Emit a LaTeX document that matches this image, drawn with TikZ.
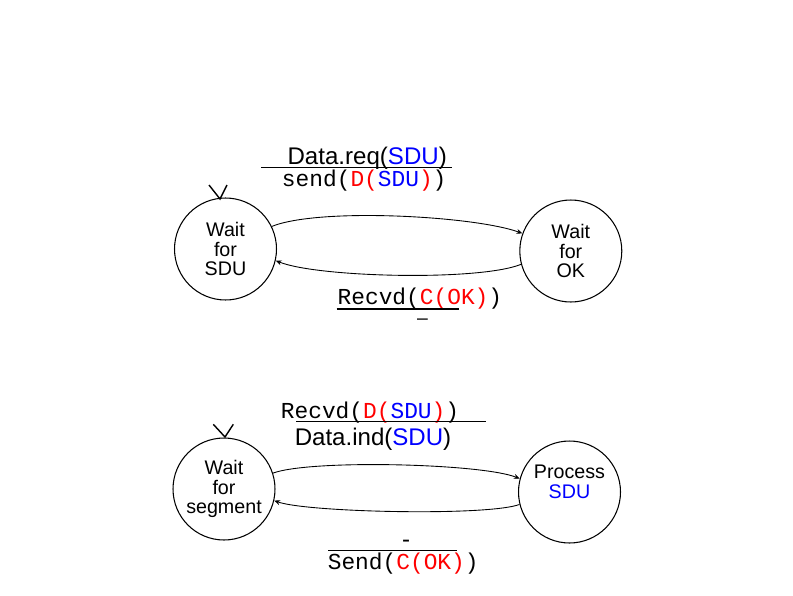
\documentclass[tikz,border=0pt]{standalone}
\usepackage{fontspec}
\setmainfont{Liberation Sans}
\setmonofont{Liberation Mono}
\usepackage{xcolor}
\usetikzlibrary{arrows.meta,positioning}

\tikzset{
  stnode/.style={draw, circle, line width=0.6pt, minimum size=2.04cm, inner sep=0pt,
    align=center, font=\fontsize{11.2}{11.3}\selectfont},
  trans/.style={line width=0.5pt, -{Stealth[length=3.4pt,width=2.8pt]}},
  sflbl/.style={inner sep=0pt, anchor=base, font=\fontsize{13.7}{15}\selectfont},
  ttlbl/.style={inner sep=0pt, anchor=base, font=\fontsize{13}{15}\ttfamily},
  fracbar/.style={line width=0.6pt},
  initmark/.style={line width=0.8pt}
}
\newcommand{\redtxt}[1]{\textcolor{red}{#1}}
\newcommand{\bluetxt}[1]{\textcolor{blue}{#1}}

\begin{document}
\begin{tikzpicture}[x=0.02cm, y=0.02cm]
\useasboundingbox (0,0) rectangle (793,-595);

\node[stnode] (WSDU) at (225.5,-249) {Wait\\for\\SDU};
\node[stnode] (WOK) at (570.8,-251) {Wait\\for\\OK};
\node[stnode] (WSEG) at (224,-489) {Wait\\for\\segment};
\node[stnode] (PSDU) at (569.5,-492) {Process\\\bluetxt{SDU}\\~};

\draw[initmark] (209,-185) -- (220,-199) -- (227,-185);
\draw[initmark] (213.3,-424.3) -- (225,-437) -- (233.3,-424.3);

\draw[trans] (WSDU.26) to[out=22, in=160, looseness=0.52] (WOK.160);
\draw[trans] (WOK.195) to[out=-158, in=-22, looseness=0.47] (WSDU.-13);
\draw[trans] (WSEG.18) to[out=20, in=158, looseness=0.42] (PSDU.165);
\draw[trans] (PSDU.194) to[out=-160, in=-20, looseness=0.36] (WSEG.-13);

\node[sflbl] (req) at (367.2,-164) {Data.req(\bluetxt{SDU})};
\draw[fracbar] (261,-167.7) -- (451.7,-167.7);
\node[ttlbl] (send) at (364.2,-186) {send(\redtxt{D(}\bluetxt{SDU}\redtxt{)})};

\node[ttlbl] (rcvC) at (419.9,-304) {Recvd(\redtxt{C(OK)})};
\draw[fracbar] (336.7,-309) -- (458.7,-309);
\node[inner sep=0pt, anchor=base, font=\fontsize{11}{12}\selectfont] (none1) at (422.5,-324) {\textendash};

\node[ttlbl] (rcvD) at (370,-418) {Recvd(\redtxt{D(}\bluetxt{SDU}\redtxt{)})};
\draw[fracbar] (296,-421.7) -- (486,-421.7);
\node[sflbl] (ind) at (373,-445) {Data.ind(\bluetxt{SDU})};

\node[sflbl] (none2) at (406,-547.4) {-};
\draw[fracbar] (328,-550.7) -- (456.7,-550.7);
\node[ttlbl] (sendC) at (403.2,-569) {Send(\redtxt{C(OK)})};

\end{tikzpicture}
\end{document}
